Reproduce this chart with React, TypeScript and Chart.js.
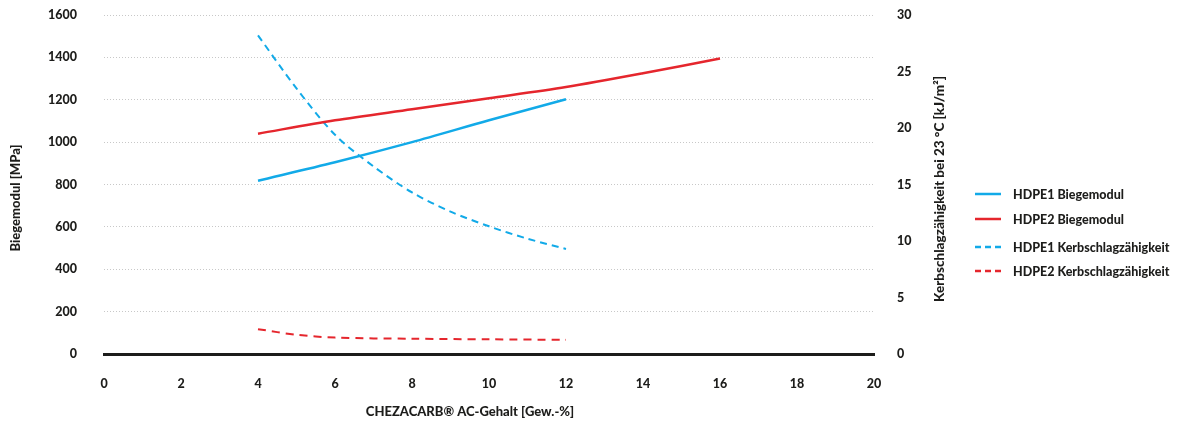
import React, { useEffect, useRef } from "react";
import { Chart, registerables } from "chart.js";
Chart.register(...registerables);

const xTicks = [0, 2, 4, 6, 8, 10, 12, 14, 16, 18, 20];
const hdpe1BiegeX = [4, 6, 8, 10, 12];
const hdpe1Biege = [818, 905, 1000, 1103, 1202];
const hdpe2BiegeX = [4, 6, 8, 10, 12, 14, 16];
const hdpe2Biege = [1040, 1103, 1155, 1207, 1260, 1325, 1395];
const hdpe1KerbX = [4, 5, 6, 7, 8, 9, 10, 11, 12];
const hdpe1Kerb = [28.2, 23.5, 19.4, 16.6, 14.3, 12.6, 11.3, 10.2, 9.3];
const hdpe2KerbX = [4, 5, 6, 8, 10, 12];
const hdpe2Kerb = [2.2, 1.7, 1.45, 1.35, 1.3, 1.25];

const labels = [
  "HDPE1 Biegemodul",
  "HDPE2 Biegemodul",
  "HDPE1 Kerbschlagzähigkeit",
  "HDPE2 Kerbschlagzähigkeit",
];
const BLUE = "#12aae8";
const RED = "#e5262d";
const FONT = "Lato";
const TXT = "#1d1d1b";
const TICKFONT = { family: FONT, weight: "900", size: 12.5 };

const pts = (xs: number[], ys: number[]) => xs.map((x, i) => ({ x, y: ys[i] }));

const overlay = {
  id: "overlay",
  afterDraw(chart: any) {
    const ctx = chart.ctx;
    ctx.save();
    ctx.fillStyle = TXT;
    ctx.font = `900 13px ${FONT}`;
    ctx.textAlign = "center";
    ctx.textBaseline = "middle";
    ctx.save();
    ctx.translate(16, 198);
    ctx.rotate(-Math.PI / 2);
    ctx.fillText("Biegemodul [MPa]", 0, 0);
    ctx.restore();
    ctx.save();
    ctx.font = `900 13.5px ${FONT}`;
    ctx.translate(940, 189);
    ctx.rotate(-Math.PI / 2);
    ctx.fillText("Kerbschlagzähigkeit bei 23 °C [kJ/m²]", 0, 0);
    ctx.restore();
    ctx.fillText("CHEZACARB® AC-Gehalt [Gew.-%]", 470, 412);
    const rows = [194, 219, 247, 271];
    const colors = [BLUE, RED, BLUE, RED];
    ctx.textAlign = "left";
    ctx.font = `900 12.5px ${FONT}`;
    rows.forEach((y, i) => {
      ctx.beginPath();
      ctx.strokeStyle = colors[i];
      ctx.lineWidth = 2.5;
      ctx.setLineDash(i >= 2 ? [6, 4] : []);
      ctx.moveTo(975, y);
      ctx.lineTo(1001, y);
      ctx.stroke();
      ctx.setLineDash([]);
      ctx.fillStyle = TXT;
      ctx.fillText(labels[i], 1013, y + 1);
    });
    ctx.restore();
  },
};

export default function App() {
  const ref = useRef<HTMLCanvasElement>(null);
  useEffect(() => {
    const chart = new Chart(ref.current as HTMLCanvasElement, {
      type: "line",
      data: {
        datasets: [
          {
            label: labels[0],
            data: pts(hdpe1BiegeX, hdpe1Biege),
            borderColor: BLUE,
            borderWidth: 2.5,
            yAxisID: "y",
          },
          {
            label: labels[1],
            data: pts(hdpe2BiegeX, hdpe2Biege),
            borderColor: RED,
            borderWidth: 2.5,
            yAxisID: "y",
          },
          {
            label: labels[2],
            data: pts(hdpe1KerbX, hdpe1Kerb),
            borderColor: BLUE,
            borderWidth: 2,
            borderDash: [7, 5],
            yAxisID: "y1",
          },
          {
            label: labels[3],
            data: pts(hdpe2KerbX, hdpe2Kerb),
            borderColor: RED,
            borderWidth: 2,
            borderDash: [8, 6],
            yAxisID: "y1",
          },
        ],
      },
      options: {
        animation: false,
        responsive: true,
        maintainAspectRatio: false,
        layout: { padding: { top: 15, right: 218, left: 0, bottom: 0 } },
        elements: {
          point: { radius: 0 },
          line: { tension: 0.3 },
        },
        plugins: { legend: { display: false }, tooltip: { enabled: false } },
        scales: {
          x: {
            type: "linear",
            min: 0,
            max: 20,
            afterBuildTicks: (s: any) => {
              s.ticks = xTicks.map((v) => ({ value: v }));
            },
            afterFit: (s: any) => {
              s.height = 68;
            },
            grid: { display: false, drawTicks: false },
            border: { display: true, color: "#1d1d1b", width: 3 },
            ticks: {
              padding: 22,
              color: TXT,
              font: TICKFONT,
              maxRotation: 0,
              callback: (v: any) => String(v),
            },
          },
          y: {
            position: "left",
            min: 0,
            max: 1600,
            ticks: {
              stepSize: 200,
              padding: 27,
              color: TXT,
              font: TICKFONT,
              callback: (v: any) => String(v),
            },
            afterFit: (s: any) => {
              s.width = 104;
              s.paddingTop = 0;
              s.paddingBottom = 0;
            },
            grid: {
              drawTicks: false,
              color: (c: any) => (c.tick && c.tick.value === 0 ? "rgba(0,0,0,0)" : "#c8c8c8"),
              lineWidth: 1,
            },
            border: { display: false, dash: [1, 2] },
          },
          y1: {
            position: "right",
            min: 0,
            max: 30,
            ticks: {
              stepSize: 5,
              padding: 23,
              color: TXT,
              font: TICKFONT,
              callback: (v: any) => String(v),
            },
            afterFit: (s: any) => {
              s.width = 100;
              s.paddingTop = 0;
              s.paddingBottom = 0;
            },
            grid: { display: false, drawTicks: false },
            border: { display: false },
          },
        },
      },
      plugins: [overlay],
    } as any);
    return () => chart.destroy();
  }, []);
  return (
    <div style={{ position: "fixed", left: 0, top: 0, width: 1192, height: 422, background: "#fff" }}>
      <canvas ref={ref} />
    </div>
  );
}
